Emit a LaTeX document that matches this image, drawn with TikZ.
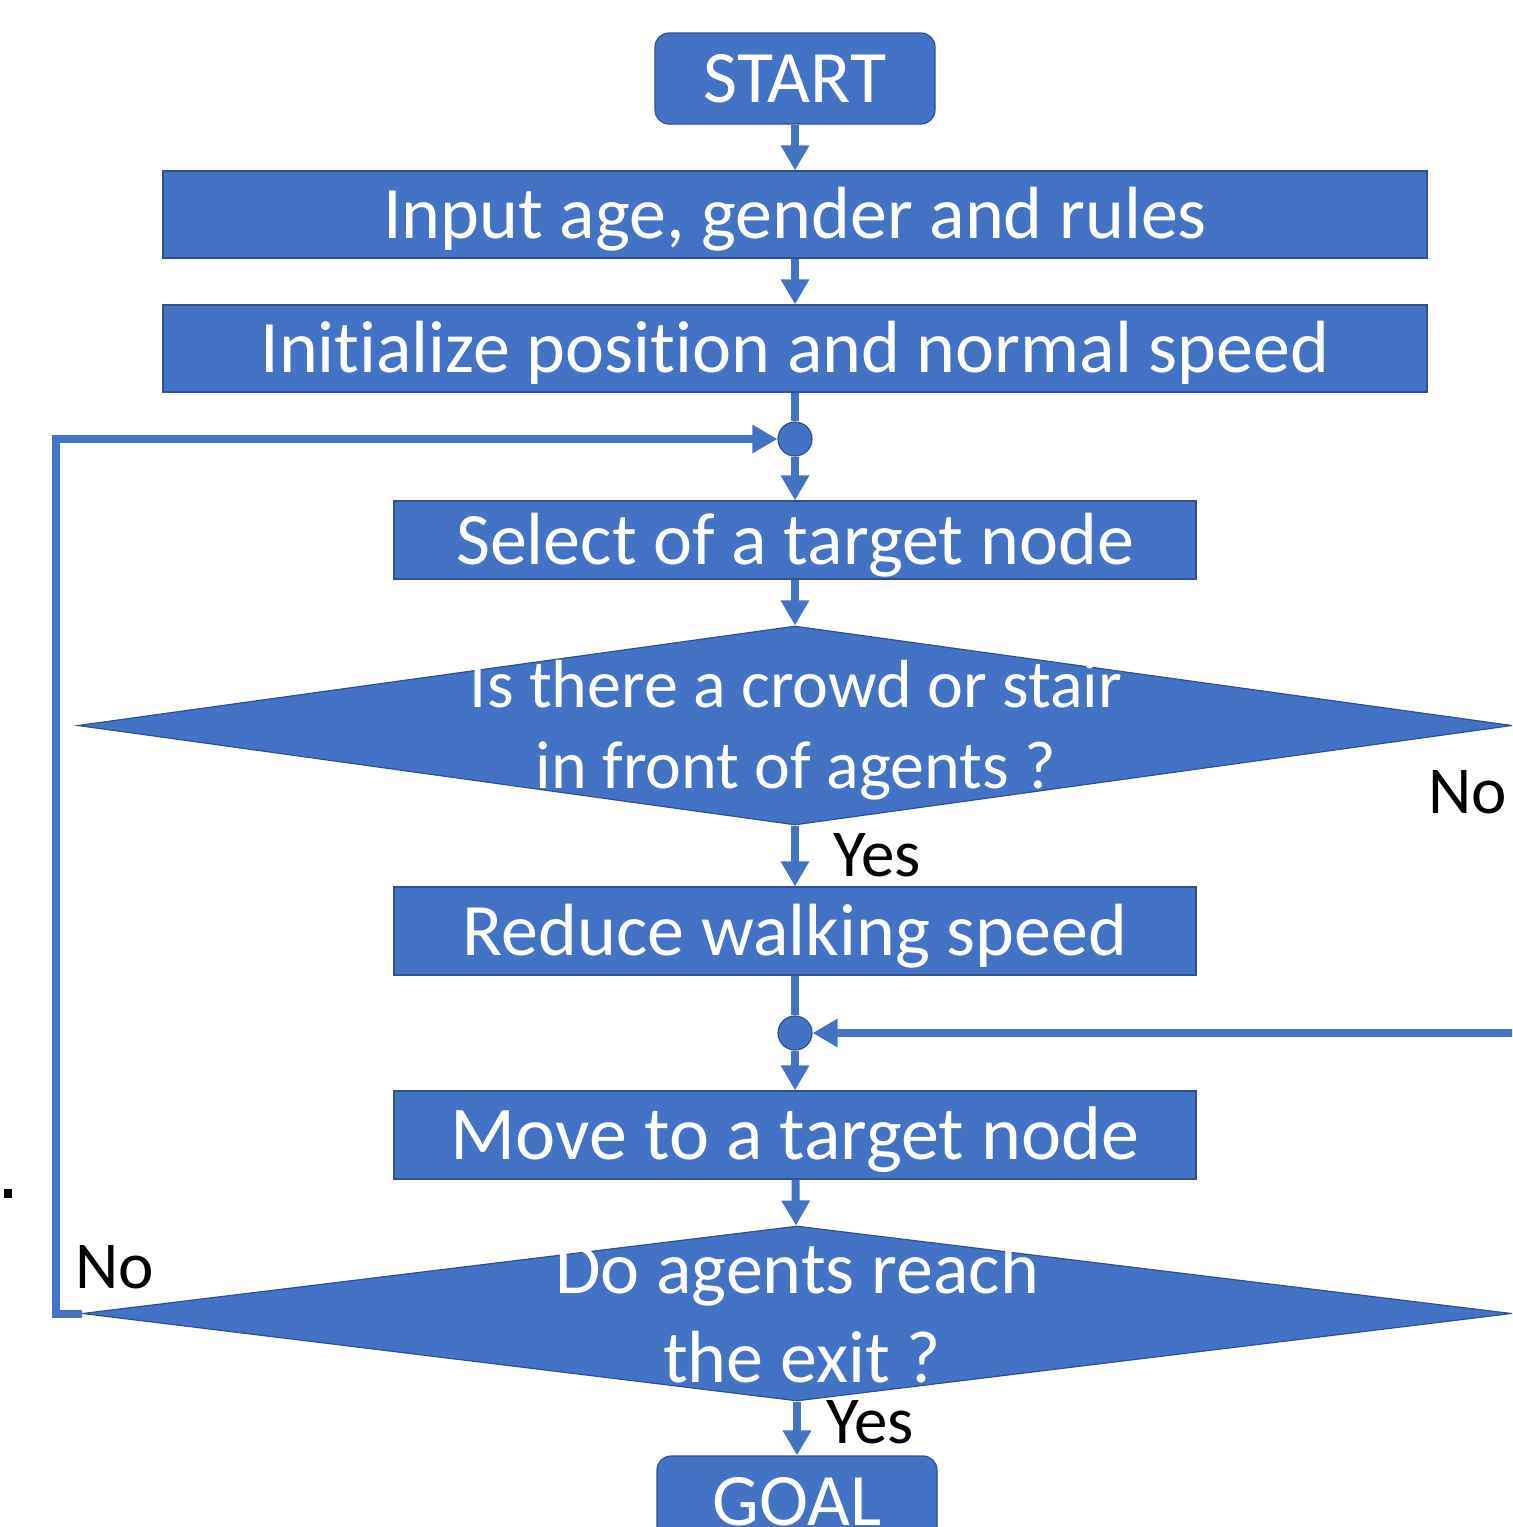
\documentclass[tikz,border=0pt]{standalone}
\usepackage{fontspec}
\setmainfont[Ligatures=NoCommon]{Carlito}
\usetikzlibrary{shapes.geometric,arrows.meta}
\definecolor{fillblue}{HTML}{4472C4}
\definecolor{edgeblue}{HTML}{2F528F}
\begin{document}
\begin{tikzpicture}[x=0.5pt,y=-0.5pt,
 box/.style={rectangle, fill=fillblue, draw=edgeblue, line width=0.6pt, text=white,
   font=\fontsize{37}{44}\selectfont, inner sep=0pt, text height=24pt, text depth=0pt},
 term/.style={box, rounded corners=7pt},
 decision/.style={diamond, fill=fillblue, draw=edgeblue, line width=0.6pt, inner sep=0pt},
 junction/.style={circle, fill=fillblue, draw=edgeblue, line width=0.6pt, minimum size=17pt, inner sep=0pt},
 dtext/.style={text=white, inner sep=0pt, anchor=base},
 lbl/.style={font=\fontsize{33.5}{40}\selectfont, inner sep=0pt, anchor=base west},
 flow/.style={draw=fillblue, line width=4pt, -{Triangle[width=13.5pt,length=12.5pt]}},
 link/.style={draw=fillblue, line width=4pt}
]
\useasboundingbox (0,0) rectangle (1512,1527);
\clip (0,0) rectangle (1512,1527);

% nodes
\node[term, minimum width=140pt, minimum height=45.5pt] (start) at (795,78.5) {START};
\node[box, minimum width=632pt, minimum height=43.5pt] (input) at (795,214.5) {Input age, gender and rules};
\node[box, minimum width=632pt, minimum height=43.5pt] (init) at (795,348.5) {Initialize position and normal speed};
\node[junction] (j1) at (795,439) {};
\node[box, minimum width=401pt, minimum height=39pt] (select) at (795,540) {Select of a target node};
\node[decision, minimum width=717pt, minimum height=99.5pt] (d1) at (795,725.5) {};
\node[dtext, font=\fontsize{34}{40}\selectfont] (d1a) at (796,707) {Is there a crowd or stair};
\node[dtext, font=\fontsize{34}{40}\selectfont] (d1b) at (796,788) {in front of agents ?};
\node[box, minimum width=401pt, minimum height=44pt] (reduce) at (795,931) {Reduce walking speed};
\node[junction] (j2) at (795,1033) {};
\node[box, minimum width=401pt, minimum height=44pt, font=\fontsize{38}{45}\selectfont] (move) at (795,1135) {Move to a target node};
\node[decision, minimum width=714.5pt, minimum height=87.5pt] (d2) at (797,1313.5) {};
\node[dtext, font=\fontsize{37}{44}\selectfont] (d2a) at (797,1293) {Do agents reach};
\node[dtext, font=\fontsize{37}{44}\selectfont] (d2b) at (802,1382) {the exit ?};
\node[term, minimum width=140pt, minimum height=45.5pt] (goal) at (797,1501.5) {GOAL};

% labels
\node[lbl] (no1) at (1428,813) {No};
\node[lbl] (yes1) at (833,876) {Yes};
\node[lbl] (no2) at (75,1288) {No};
\node[lbl] (yes2) at (826,1443) {Yes};

% connectors
\draw[flow] (start) -- (input);
\draw[flow] (input) -- (init);
\draw[link] (init) -- (j1);
\draw[flow] (j1) -- (select);
\draw[flow] (select) -- (d1);
\draw[flow] (d1) -- (reduce);
\draw[link] (reduce) -- (j2);
\draw[flow] (j2) -- (move);
\draw[flow] (move) -- (d2);
\draw[flow] (d2) -- (goal);

\coordinate (lc1) at (56,1313.5);
\coordinate (lc2) at (56,439);
\draw[flow] (d2.west) -- (lc1) -- (lc2) -- (j1);

\coordinate (rc1) at (1570,725.5);
\coordinate (rc2) at (1570,1033);
\draw[flow] (d1.east) -- (rc1) -- (rc2) -- (j2);

% small mark
\fill (4,1189) rectangle (12,1198);
\end{tikzpicture}
\end{document}
